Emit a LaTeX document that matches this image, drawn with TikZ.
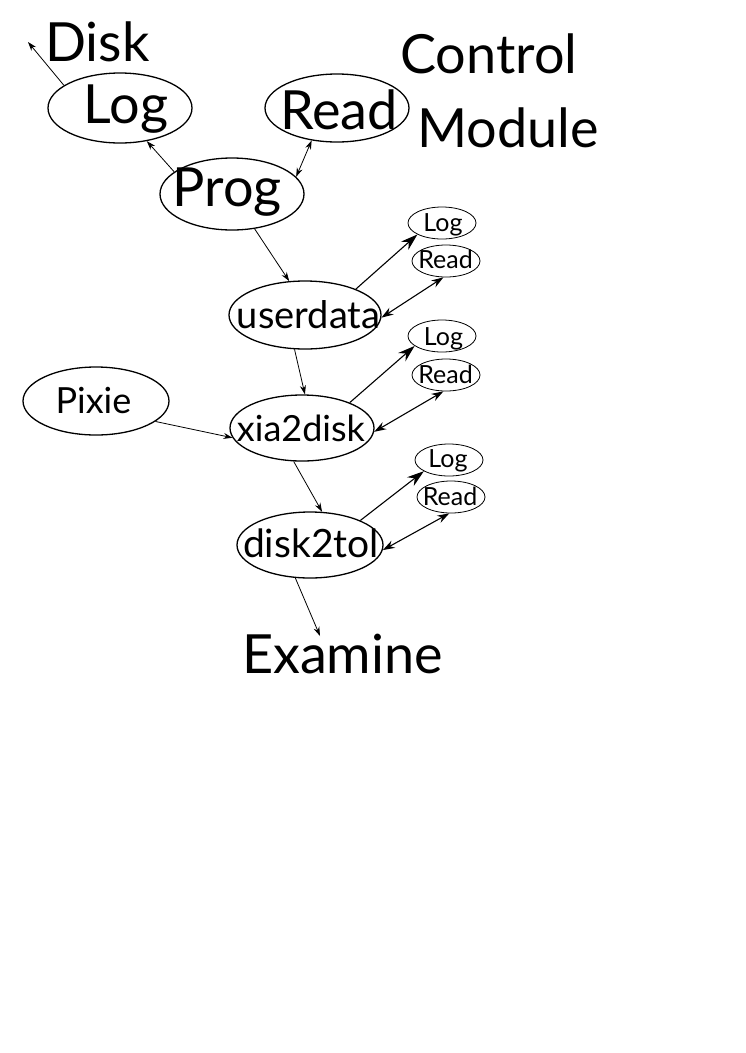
\documentclass[tikz,border=0pt]{standalone}
\usepackage{fontspec}
\setmainfont{Lato}
\usetikzlibrary{shapes.geometric,arrows.meta}
\begin{document}
\begin{tikzpicture}[x=1pt,y=-1pt,
  big/.style={ellipse,draw,line width=1.3pt,inner sep=0pt},
  small/.style={ellipse,draw,line width=0.8pt,inner sep=0pt,minimum width=68pt,minimum height=32pt},
  lbl/.style={inner sep=0pt,anchor=base},
  fbig/.style={font=\fontsize{54}{64}\selectfont},
  fsmall/.style={font=\fontsize{25}{30}\selectfont},
  arr/.style={line width=0.8pt,-{Stealth[length=9pt,width=6pt]}},
  darr/.style={line width=0.8pt,{Stealth[length=9pt,width=6pt]}-{Stealth[length=9pt,width=6pt]}},
  barr/.style={line width=1.1pt,-{Stealth[length=17pt,width=11pt]}},
  bdarr/.style={line width=1.1pt,{Stealth[length=12pt,width=8pt]}-{Stealth[length=12pt,width=8pt]}}]
\useasboundingbox (0,0) rectangle (745,1053);
% top group
\node[lbl,fbig] (disk) at (97.5,61) {Disk};
\coordinate (diskend) at (28,42);
\node[big,minimum width=144pt,minimum height=70pt] (log) at (120,108) {};
\node[lbl,fbig] (logt) at (126,123) {Log};
\node[big,minimum width=144pt,minimum height=68pt] (read) at (337,108) {};
\node[lbl,fbig] (readt) at (339,129) {Read};
\node[big,minimum width=144pt,minimum height=72pt] (prog) at (232,194) {};
\node[lbl,fbig] (progt) at (227.5,206) {Prog};
\node[lbl,fbig,anchor=base west] (ctrl) at (400,73) {Control};
\node[lbl,fbig,anchor=base west] (mod) at (417,147) {Module};
\draw[arr] (log.158) -- (diskend);
\draw[arr] (prog.159) -- (log.-51);
\draw[darr] (prog.15) -- (read.-128);
% userdata
\node[big,minimum width=152pt,minimum height=68pt] (ud) at (305,315) {};
\node[lbl,font=\fontsize{38}{46}\selectfont] (udt) at (308.5,328) {userdata};
\node[small] (l1) at (442,223) {};
\node[lbl,fsmall] (l1t) at (443,231) {Log};
\node[small] (r1) at (446,261) {};
\node[lbl,fsmall] (r1t) at (445.5,268) {Read};
\draw[arr] (prog.-57) -- (ud.115);
\draw[barr] (ud.27) -- (l1.205);
\draw[bdarr] (ud.-2) -- (r1.-99);
% xia2disk
\node[big,minimum width=144pt,minimum height=66pt] (xd) at (302,428) {};
\node[lbl,font=\fontsize{36}{43}\selectfont] (xdt) at (301,441) {xia2disk};
\node[small] (l2) at (442,336) {};
\node[lbl,fsmall] (l2t) at (443.5,345) {Log};
\node[small] (r2) at (446,375) {};
\node[lbl,fsmall] (r2t) at (445.5,383) {Read};
\draw[arr] (ud.-107) -- (xd.85);
\draw[barr] (xd.28) -- (l2.200);
\draw[bdarr] (xd.-3) -- (r2.-99);
% Pixie
\node[big,minimum width=146pt,minimum height=68pt] (px) at (96,401) {};
\node[lbl,font=\fontsize{36}{43}\selectfont] (pxt) at (93.5,413) {Pixie};
\draw[arr] (px.-19) -- (xd.188);
% disk2tol
\node[big,minimum width=146pt,minimum height=66pt] (dt) at (310,545) {};
\node[lbl,font=\fontsize{39}{47}\selectfont] (dtt) at (311,557) {disk2tol};
\node[small] (l3) at (449,460) {};
\node[lbl,fsmall] (l3t) at (448,467) {Log};
\node[small] (r3) at (451,497) {};
\node[lbl,fsmall] (r3t) at (450,505) {Read};
\draw[arr] (xd.-104) -- (dt.70);
\draw[barr] (dt.26) -- (l3.204);
\draw[bdarr] (dt.-4) -- (r3.-96);
% Examine
\node[lbl,fbig] (ex) at (342.5,673) {Examine};
\coordinate (exin) at (320,636);
\draw[arr] (dt.-114) -- (exin);
\end{tikzpicture}
\end{document}
